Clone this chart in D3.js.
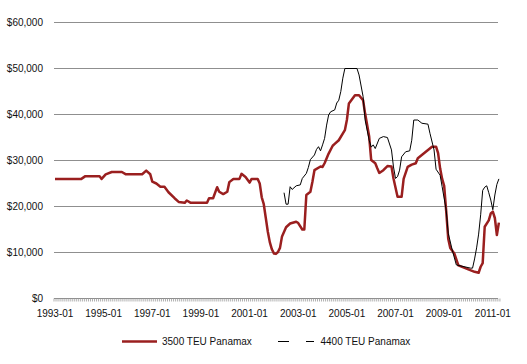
<!DOCTYPE html>
<html><head><meta charset="utf-8">
<script src="https://cdn.jsdelivr.net/npm/d3@7"></script>
<style>
html,body{margin:0;padding:0;background:#fff;}
svg{display:block;font-family:"Liberation Sans",Arial,sans-serif;}
</style></head>
<body><svg id="c" width="527" height="364"></svg>
<script>
// ---- data ----
const seriesNames = ["3500 TEU Panamax", "4400 TEU Panamax"];
const yTicks = [0, 10000, 20000, 30000, 40000, 50000, 60000];
const xTickLabels = ["1993-01","1995-01","1997-01","1999-01","2001-01","2003-01","2005-01","2007-01","2009-01","2011-01"];

const redMonths = ["1993-01","1994-02","1994-04","1994-11","1994-12","1995-02","1995-05","1995-10","1995-12","1996-08","1996-10","1996-12",
 "1997-01","1997-03","1997-05","1997-07","1997-09","1997-12","1998-02","1998-05","1998-06","1998-08","1999-04","1999-05","1999-07",
 "1999-09","1999-10","1999-12","2000-02","2000-03","2000-05","2000-08","2000-09","2000-11","2001-01","2001-02","2001-05","2001-06",
 "2001-07","2001-08","2001-09","2001-10","2001-11","2001-12","2002-01","2002-02","2002-03","2002-04","2002-05","2002-07","2002-09",
 "2002-12","2003-01","2003-03","2003-04","2003-05","2003-07","2003-08","2003-09","2003-12","2004-01","2004-02","2004-04","2004-06",
 "2004-07","2004-09","2004-12","2005-01","2005-02","2005-05","2005-07","2005-09","2005-10","2005-12","2006-01","2006-03","2006-04",
 "2006-05","2006-07","2006-09","2006-11","2006-12","2007-02","2007-04","2007-05","2007-07","2007-09","2007-11","2007-12","2008-07",
 "2008-09","2008-10","2008-11","2008-12","2009-01","2009-02","2009-03","2009-04","2009-06","2009-08","2010-04","2010-06","2010-07",
 "2010-08","2010-09","2010-11","2010-12","2011-01","2011-02","2011-03","2011-04"];
const redValues = [26000,26000,26600,26600,26000,27000,27500,27500,27000,27000,27800,27000,
 25400,25000,24300,24300,23100,21800,21000,20800,21300,20800,20800,21800,21800,
 24200,23200,22700,23200,25300,26000,26000,27100,26400,25200,26000,26000,25000,
 22000,20500,17500,14500,12200,10700,9800,9700,10100,11000,13500,15500,16300,
 16700,16400,15000,15000,22500,23200,25400,27900,28700,28600,29400,31500,33200,
 33600,34400,36600,38800,42400,44200,44200,43100,40200,35200,30100,29400,28300,
 27300,27900,28800,28700,26100,22100,22100,26000,28600,29100,29400,30500,33000,33000,
 31600,28300,26000,24500,19000,13000,11000,9800,7200,5800,5600,6900,7700,
 15600,17000,18500,18900,17500,13800,16500,18200];

const blackMonths = ["2002-06","2002-07","2002-08","2002-09","2002-10","2002-12","2003-02","2003-03","2003-05","2003-06","2003-07","2003-09",
 "2003-10","2003-11","2003-12","2004-01","2004-02","2004-03","2004-04","2004-05","2004-07","2004-08","2004-09","2004-10","2004-11",
 "2004-12","2005-06","2005-07","2005-09","2005-10","2005-12","2006-01","2006-02","2006-03","2006-05","2006-07","2006-09","2006-11",
 "2006-12","2007-01","2007-02","2007-03","2007-04","2007-06","2007-08","2007-09","2007-10","2007-12","2008-02","2008-05","2008-06",
 "2008-08","2008-09","2008-11","2008-12","2009-02","2009-03","2009-05","2009-07","2010-02","2010-03","2010-04","2010-05","2010-06",
 "2010-07","2010-08","2010-09","2010-10","2010-11","2010-12","2011-01","2011-02","2011-03","2011-04"];
const blackValues = [23000,20500,20500,24300,23700,24500,24700,26100,27200,28500,30200,31200,
 32400,33000,32100,33400,34800,37700,39900,40600,41000,42500,43100,45000,47900,
 50000,50000,48600,43900,38800,34400,32900,33400,32600,34800,35200,35000,32300,
 28600,26100,26500,27900,30800,31900,32100,34400,38800,38800,38100,37900,35900,
 32300,28100,26800,24300,19200,14200,10500,7300,6600,6600,8600,11000,14000,
 18200,23500,24200,24500,23000,21400,19300,22500,24800,26000];

// ---- drawing ----
const svg = d3.select("#c");
const monthIndex = s => { const [y, m] = s.split("-").map(Number); return (y - 1993) * 12 + (m - 1); };
const nMonths = 220;

const x = d3.scaleLinear().domain([0, 219]).range([55, 498.9]);
const y = d3.scaleLinear().domain([0, 60000]).range([298.5, 22.5]);

// gridlines
svg.append("g").selectAll("line").data(yTicks.filter(d => d > 0)).join("line")
  .attr("x1", 54).attr("x2", 498)
  .attr("y1", d => y(d)).attr("y2", d => y(d))
  .attr("stroke", "#8f8f8f").attr("stroke-width", 1.2);

// y labels
svg.append("g").selectAll("text").data(yTicks).join("text")
  .attr("x", 43).attr("y", d => y(d)).attr("dy", "0.35em")
  .attr("text-anchor", "end").attr("font-size", 10).attr("fill", "#111")
  .text(d => "$" + d3.format(",")(d));

// x axis line with monthly ticks
const xa = svg.append("g");
xa.append("line").attr("x1", 54).attr("x2", 498).attr("y1", 298.5).attr("y2", 298.5)
  .attr("stroke", "#8f8f8f").attr("stroke-width", 1.2);
xa.selectAll("line.t").data(d3.range(nMonths + 1)).join("line").attr("class", "t")
  .attr("x1", d => x(d - 0.5)).attr("x2", d => x(d - 0.5))
  .attr("y1", 298.5).attr("y2", 301.5)
  .attr("stroke", "#9a9a9a").attr("stroke-width", 0.8);
xa.selectAll("text").data(xTickLabels).join("text")
  .attr("x", d => x(monthIndex(d))).attr("y", 317)
  .attr("text-anchor", "middle").attr("font-size", 10).attr("fill", "#111")
  .text(d => d);

// lines
const line = d3.line().x(d => x(d.m)).y(d => y(d.v));
const redData = redMonths.map((s, i) => ({ m: monthIndex(s), v: redValues[i] }));
const blackData = blackMonths.map((s, i) => ({ m: monthIndex(s), v: blackValues[i] }));

svg.append("path").datum(redData).attr("d", line)
  .attr("fill", "none").attr("stroke", "#9a1f1f").attr("stroke-width", 2.5)
  .attr("stroke-linejoin", "round");
svg.append("path").datum(blackData).attr("d", line)
  .attr("fill", "none").attr("stroke", "#000").attr("stroke-width", 1)
  .attr("stroke-linejoin", "round");

// legend
const lg = svg.append("g");
lg.append("line").attr("x1", 122).attr("x2", 157).attr("y1", 341.5).attr("y2", 341.5)
  .attr("stroke", "#9a1f1f").attr("stroke-width", 2.5);
lg.append("text").attr("x", 162).attr("y", 341.5).attr("dy", "0.35em")
  .attr("font-size", 10).attr("fill", "#111").text(seriesNames[0]);
lg.append("line").attr("x1", 278).attr("x2", 314).attr("y1", 341.5).attr("y2", 341.5)
  .attr("stroke", "#000").attr("stroke-width", 1).attr("stroke-dasharray", "11,17,8");
lg.append("text").attr("x", 320.5).attr("y", 341.5).attr("dy", "0.35em")
  .attr("font-size", 10).attr("fill", "#111").text(seriesNames[1]);
</script></body></html>
